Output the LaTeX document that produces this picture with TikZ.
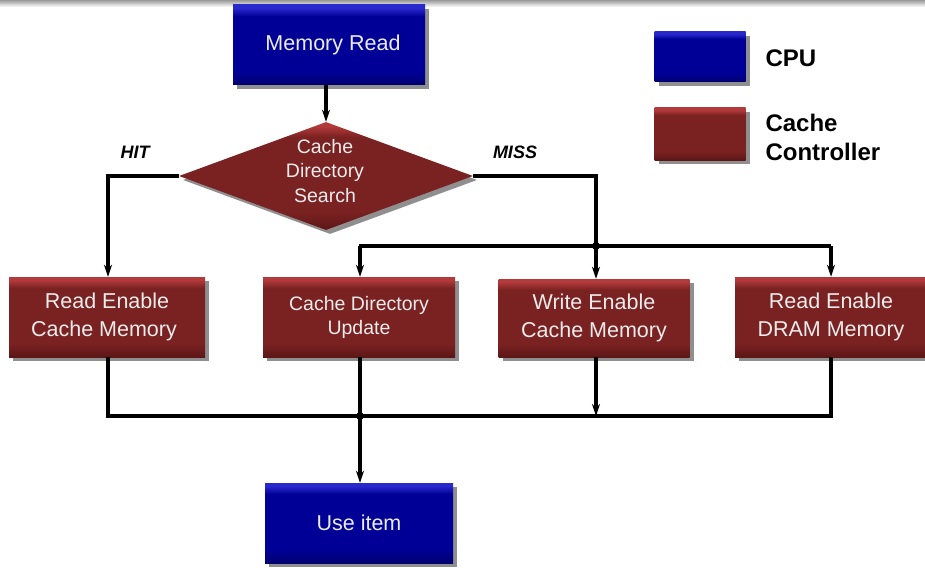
\documentclass[tikz,border=0pt]{standalone}
\usepackage{fontspec}
\setmainfont{Liberation Sans}
\usetikzlibrary{shapes.geometric,shadows,arrows.meta}

\definecolor{cpubody}{RGB}{0,0,150}
\definecolor{cpudark}{RGB}{0,0,110}
\definecolor{cputop}{RGB}{40,40,205}
\definecolor{ccbody}{RGB}{122,33,33}
\definecolor{ccdark}{RGB}{92,22,22}
\definecolor{cctop}{RGB}{178,58,58}
\definecolor{labeltext}{RGB}{236,236,236}

% box fills: thin light rim at the top, slightly darker foot
\pgfdeclareverticalshading{cpufill}{100bp}{color(0bp)=(cpudark); color(25bp)=(cpudark);
  color(33bp)=(cpubody); color(68bp)=(cpubody); color(73bp)=(cputop); color(100bp)=(cputop)}
\pgfdeclareverticalshading{ccfill}{100bp}{color(0bp)=(ccdark); color(25bp)=(ccdark);
  color(33bp)=(ccbody); color(68bp)=(ccbody); color(73bp)=(cctop); color(100bp)=(cctop)}

\tikzset{
  boxshadow/.style={drop shadow={shadow xshift=4pt,shadow yshift=-4pt,opacity=0.55,fill=black!80}},
  cpubox/.style={rectangle,shading=cpufill,boxshadow,inner sep=0pt,align=center,
    text=labeltext,font=\fontsize{21.5}{28}\selectfont},
  ccbox/.style={rectangle,shading=ccfill,boxshadow,inner sep=0pt,align=center,
    text=labeltext,font=\fontsize{21.5}{28}\selectfont},
  flow/.style={line width=3.1pt,black},
  arr/.style={flow,-{Stealth[length=12pt,width=8pt]}},
  jdot/.style={circle,fill=black,inner sep=0pt,minimum size=8pt},
  branch/.style={font=\bfseries\itshape\fontsize{18}{22}\selectfont},
  legendtext/.style={font=\bfseries\fontsize{24}{30}\selectfont,align=left,anchor=west}
}

\begin{document}
\begin{tikzpicture}[x=1pt,y=-1pt]
\useasboundingbox (0,0) rectangle (925,567);

% grey rule along the top edge
\shade[top color=black!40,bottom color=white] (0,0) rectangle (925,7);

% flow nodes
\node[cpubox,minimum width=192pt,minimum height=80pt] (mread) at (329,45) {\hspace*{8pt}Memory Read};
\node[diamond,shading=ccfill,boxshadow,inner sep=0pt,aspect=2.72,
      minimum width=294pt,minimum height=108pt] (dia) at (326,176) {};
\node[align=center,text=labeltext,font=\fontsize{19.5}{24.5}\selectfont]
      (diatext) at (325,171) {Cache\\Directory\\Search};

\node[ccbox,minimum width=196pt,minimum height=80pt] (rec) at (107,317) {Read Enable\\Cache Memory\hspace*{6pt}};
\node[ccbox,minimum width=192pt,minimum height=80pt,font=\fontsize{19.5}{24}\selectfont]
      (cdu) at (359,317) {Cache Directory\\Update};
\node[ccbox,minimum width=191pt,minimum height=78pt] (wec) at (594,318) {Write Enable\\Cache Memory};
\node[ccbox,minimum width=192pt,minimum height=80pt] (red) at (831,317) {Read Enable\\DRAM Memory};

\node[cpubox,minimum width=188pt,minimum height=80pt] (use) at (359,523) {Use item};

% branch labels
\node[branch] (hit) at (135,152) {HIT};
\node[branch] (miss) at (515,152) {MISS};

% legend
\node[cpubox,minimum width=91pt,minimum height=50pt] (legcpu) at (700,57) {};
\node[legendtext] (legcputext) at (762,58) {CPU};
\node[ccbox,minimum width=91pt,minimum height=52pt] (legcc) at (700,134) {};
\node[legendtext] (legcctext) at (762,137) {Cache\\[-1pt]Controller};

% junction points
\coordinate (split) at (596,246);
\coordinate (merge) at (360,416);

% connectors
\draw[arr] (dia.north |- mread.south) -- (dia.north);
\draw[arr] (dia.west) -| (rec.north -| 108,0);
\draw[arr] (dia.east) -| (split) -- (split |- wec.north);
\draw[flow] (split -| cdu.north) -- (split -| red.north);
\draw[arr] (split -| 360,0) -- (cdu.north -| 360,0);
\draw[arr] (split -| red.north) -- (red.north);

\draw[flow] (rec.south -| 108,0) -- (merge -| 108,0) -- (merge -| red.south) -- (red.south);
\draw[flow] (cdu.south -| 360,0) -- (merge);
\draw[arr] (wec.south -| split) -- (merge -| split);
\draw[arr] (merge) -- (use.north -| merge);

\node[jdot] (splitdot) at (split) {};
\node[jdot] (mergedot) at (merge) {};
\end{tikzpicture}
\end{document}
